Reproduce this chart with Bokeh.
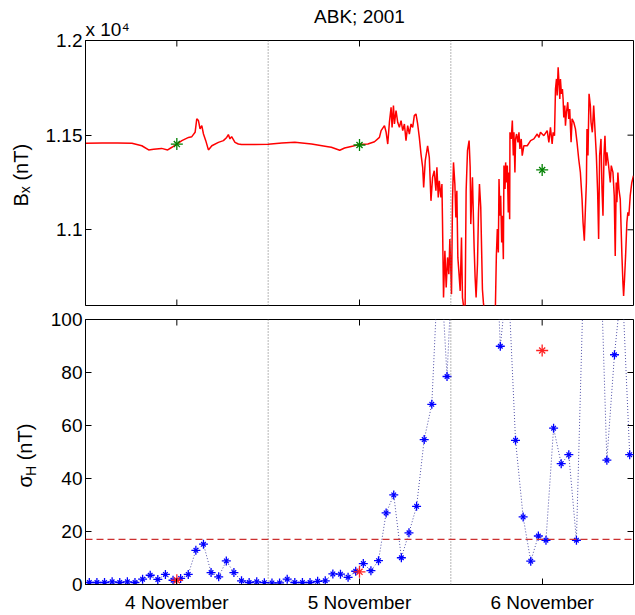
import math
from bokeh.plotting import figure
from bokeh.models import Range1d, FixedTicker, Span, Title
from bokeh.layouts import column, row
from bokeh.core.properties import value
from bokeh.embed import file_html
from bokeh.resources import INLINE

FONT = "Liberation Sans"

# ---------------- data ----------------
title_text = "ABK; 2001"
scale_text = "x 10\u2074"
day_tick_hours = [12, 36, 60]
day_tick_labels = ["4 November", "5 November", "6 November"]
midnight_hours = [24, 48]

bx_tick_values = [11000, 11500, 12000]
bx_tick_labels = ["1.1", "1.15", "1.2"]
sigma_tick_values = [0, 20, 40, 60, 80, 100]

# Bx (nT), hours since 4 Nov 00:00 UT
bx_hours_quiet = [0.0, 2.2, 4.2, 6.1, 7.4, 8.3, 8.95, 10.0, 10.8, 11.35, 12.0, 12.66,
                  13.54, 13.97, 14.4, 14.62, 14.84, 15.05, 15.28, 15.5, 15.8, 16.15,
                  16.6, 17.46, 18.12, 18.55, 18.77, 18.98, 19.2, 19.64, 20.08, 20.5,
                  22.25, 24.0, 25.8, 27.5, 29.7, 31.86, 32.3, 33.4, 34.04, 34.9, 36.0,
                  37.1, 37.97, 38.62]
bx_values_quiet = [11457, 11459, 11458, 11457, 11444, 11422, 11425, 11430, 11422, 11436,
                   11453, 11471, 11488, 11492, 11515, 11586, 11577, 11533, 11550, 11506,
                   11471, 11422, 11444, 11462, 11471, 11488, 11503, 11480, 11492, 11462,
                   11453, 11450, 11450, 11452, 11458, 11462, 11453, 11439, 11436, 11420,
                   11432, 11440, 11450, 11453, 11465, 11488]

bx_hours_nov5 = [38.84, 39.28, 39.5, 39.71, 39.93, 40.15, 40.28, 40.46, 40.59, 40.8,
                 41.02, 41.24, 41.46, 41.68, 41.9, 42.11, 42.33, 42.55, 42.77, 42.99,
                 43.2, 43.42, 43.64, 43.86, 44.08, 44.3, 44.43, 44.64, 44.95, 45.17,
                 45.39, 45.6, 45.82, 46.04, 46.17, 46.35, 46.48, 46.7, 46.83, 46.91,
                 47.04, 47.22, 47.39, 47.57, 47.74, 47.87, 48.0, 48.09, 48.22, 48.35,
                 48.53, 48.66, 48.79, 48.92, 49.05, 49.23, 49.4, 49.53, 49.75, 49.88,
                 50.01, 50.19, 50.4, 50.54, 50.62, 50.84, 51.06, 51.19, 51.32, 51.5,
                 51.63, 51.76]
bx_values_nov5 = [11524, 11550, 11515, 11453, 11568, 11647, 11541, 11656, 11559, 11630,
                  11568, 11541, 11577, 11524, 11559, 11471, 11550, 11506, 11559, 11541,
                  11603, 11612, 11559, 11488, 11400, 11330, 11224, 11365, 11444, 11383,
                  11153, 11277, 11312, 11206, 11330, 11171, 11259, 11171, 11242, 11030,
                  10642, 10889, 10695, 10854, 10765, 10951, 10783, 10660, 11153, 11356,
                  11242, 11065, 11206, 10854, 10783, 10677, 10959, 10642, 10571, 10607,
                  11206, 11418, 11471, 11330, 11030, 11277, 10907, 10748, 10642, 10818,
                  11083, 11242]

bx_hours_nov6 = [51.93, 52.15, 52.28, 52.58, 53.24, 53.85, 53.98, 54.11, 54.24, 54.33,
                 54.46, 54.55, 54.68, 54.77, 54.9, 54.98, 55.12, 55.2, 55.33, 55.42,
                 55.55, 55.64, 55.73, 55.77, 55.94, 56.08, 56.21, 56.29, 56.42, 56.51,
                 56.64, 56.82, 56.95, 57.08, 57.25, 57.38, 57.6, 58.04, 58.48, 58.91,
                 59.35, 59.57, 59.78, 60.22, 60.66, 60.88, 61.09, 61.31, 61.44, 61.62,
                 61.75, 61.88, 61.97, 62.1, 62.23, 62.32, 62.4, 62.53, 62.66, 62.75,
                 62.84, 62.97, 63.06, 63.19, 63.36, 63.49, 63.62, 63.8, 63.93, 64.15,
                 64.37, 64.58, 64.8, 65.02, 65.24, 65.37, 65.54, 65.68, 65.81, 65.89,
                 66.02, 66.16, 66.33, 66.42, 66.59, 66.77, 66.98, 67.12, 67.29, 67.42,
                 67.55, 67.73, 67.86, 67.99, 68.12, 68.25, 68.38, 68.51, 68.73, 68.95,
                 69.08, 69.3, 69.47, 69.6, 69.73, 69.82, 69.95, 70.08, 70.26, 70.48,
                 70.61, 70.7, 70.82, 70.96, 71.13, 71.26, 71.39, 71.57, 71.78, 72.0]
bx_values_nov6 = [11120, 10686, 10615, 10510, 10474, 10580, 10862, 11004, 10880, 11268,
                  11074, 11180, 10933, 11074, 10845, 11339, 11215, 11356, 11250, 11339,
                  11092, 11303, 11056, 11515, 11480, 11577, 11392, 11515, 11303, 11480,
                  11506, 11462, 11515, 11427, 11480, 11392, 11444, 11444, 11471, 11480,
                  11506, 11488, 11515, 11497, 11524, 11462, 11541, 11453, 11515, 11497,
                  11744, 11797, 11709, 11859, 11762, 11691, 11797, 11718, 11744, 11691,
                  11594, 11656, 11550, 11621, 11674, 11586, 11638, 11462, 11586, 11568,
                  11533, 11462, 11374, 11303, 11162, 11039, 10942, 11109, 11250, 11533,
                  11392, 11718, 11656, 11568, 11515, 11656, 11497, 11392, 11197, 10951,
                  11392, 11480, 11215, 11074, 11392, 11497, 11339, 11409, 11339, 11250,
                  11339, 11303, 11180, 10862, 11250, 11145, 11303, 11215, 11162, 10862,
                  10721, 10651, 10739, 10862, 11039, 11092, 11074, 11180, 11250, 11286]

# daily reference values (plotted at the noon marks)
daily_hours = [12, 36, 60]
daily_bx = [11453, 11448, 11316]
daily_sigma = [1.6, 4.8, 88.3]

# hourly sigma_H (nT), centred on half hours
sigma_hours = [h + 0.5 for h in range(72)]
sigma_values = [0.75, 0.75, 0.75, 1.0, 0.75, 1.0, 0.75, 2.0, 3.5, 1.9, 3.8, 1.6,
                2.3, 3.8, 12.9, 15.2, 4.5, 2.9, 8.9, 4.5, 1.4, 0.75, 1.0, 0.7,
                0.6, 0.6, 2.0, 0.75, 0.75, 0.75, 1.2, 1.4, 4.0, 3.9, 2.7, 5.0,
                7.9, 5.2, 9.0, 27.0, 33.8, 10.1, 19.5, 29.5, 54.7, 68.0, 130.0, 78.5,
                140.0, 190.0, 230.0, 175.0, 210.0, 160.0, 89.9, 118.0, 54.4, 25.5, 8.8, 18.3,
                16.7, 59.0, 45.6, 49.0, 16.7, 123.0, 165.0, 140.0, 46.9, 86.7, 115.0, 49.0]
sigma_threshold = 17.0

bx_hours = bx_hours_quiet + bx_hours_nov5 + bx_hours_nov6
bx_values = bx_values_quiet + bx_values_nov5 + bx_values_nov6

X_START, X_END = 0, 72
BX_LO, BX_HI = 10600, 12000
SG_LO, SG_HI = 0, 100

TICK_FS = 19
LABEL_FS = 20
SUB_FS = 14


def bare(width, height, xr, yr):
    f = figure(width=width, height=height, x_range=xr, y_range=yr,
               output_backend="svg", toolbar_location=None,
               x_axis_location=None, y_axis_location=None,
               min_border_left=0, min_border_right=0, min_border_top=0, min_border_bottom=0)
    f.grid.visible = False
    f.outline_line_color = None
    f.background_fill_color = "white"
    f.border_fill_color = "white"
    return f


def box_ticks(p, xticks, yticks, ylo, yhi, xhi, bottom):
    # MATLAB style inward ticks on the box edges: half of a dash marker, rest clipped
    n = len(xticks)
    p.scatter(xticks, [yhi] * n, marker="dash", angle=math.pi / 2, size=12,
              line_color="black", line_width=1)
    if bottom:
        p.scatter(xticks, [ylo] * n, marker="dash", angle=math.pi / 2, size=12,
                  line_color="black", line_width=1)
    p.scatter([xhi] * len(yticks), yticks, marker="dash", size=12,
              line_color="black", line_width=1)


def style_panel(p, yticks, yoverrides):
    p.grid.visible = False
    p.outline_line_color = "black"
    p.outline_line_width = 1
    p.background_fill_color = "white"
    p.border_fill_color = "white"
    for ax in p.yaxis:
        ax.ticker = FixedTicker(ticks=yticks)
        if yoverrides:
            ax.major_label_overrides = yoverrides
        ax.major_tick_in = 6
        ax.major_tick_out = 0
        ax.minor_tick_line_color = None
        ax.axis_line_color = "black"
        ax.major_label_text_font = FONT
        ax.major_label_text_font_size = f"{TICK_FS}px"
        ax.major_label_text_color = "black"
        ax.major_label_standoff = 3
    for h in midnight_hours:
        p.add_layout(Span(location=h, dimension="height", line_color="#6e6e6e",
                          line_dash="1 2", line_width=1))


def asterisk(p, x, y, color, size, width=1.3):
    p.scatter(x, y, marker="cross", size=size, line_color=color, line_width=width)
    p.scatter(x, y, marker="x", size=size * 0.72, line_color=color, line_width=width)


# ---------------- top panel ----------------
p1 = figure(width=593, height=306, x_range=Range1d(X_START, X_END),
            y_range=Range1d(BX_LO, BX_HI), output_backend="svg", toolbar_location=None,
            x_axis_location=None,
            min_border_left=41, min_border_right=2, min_border_top=40, min_border_bottom=1)
style_panel(p1, bx_tick_values, {v: t for v, t in zip(bx_tick_values, bx_tick_labels)})
p1.line(bx_hours, bx_values, line_color="#ff0000", line_width=1.5)
asterisk(p1, daily_hours, daily_bx, "#008000", 12)
box_ticks(p1, day_tick_hours, bx_tick_values, BX_LO, BX_HI, X_END, True)

# scale factor text just above the frame (closest slot), title stacked above it
p1.add_layout(Title(text=scale_text, align="left", vertical_align="bottom", standoff=2,
                    text_font=FONT, text_font_size=f"{TICK_FS}px",
                    text_font_style="normal", text_color="black"), "above")
p1.title.text = title_text
p1.title.align = "center"
p1.title.vertical_align = "bottom"
p1.title.standoff = -23
p1.title.text_font = FONT
p1.title.text_font_size = f"{TICK_FS}px"
p1.title.text_font_style = "normal"
p1.title.text_color = "black"

# ---------------- bottom panel ----------------
p2 = figure(width=593, height=309, x_range=p1.x_range, y_range=Range1d(SG_LO, SG_HI),
            output_backend="svg", toolbar_location=None,
            min_border_left=41, min_border_right=2, min_border_top=13, min_border_bottom=31)
style_panel(p2, sigma_tick_values, None)
for ax in p2.xaxis:
    ax.ticker = FixedTicker(ticks=day_tick_hours)
    ax.major_label_overrides = {h: lab for h, lab in zip(day_tick_hours, day_tick_labels)}
    ax.major_tick_in = 6
    ax.major_tick_out = 0
    ax.minor_tick_line_color = None
    ax.axis_line_color = "black"
    ax.major_label_text_font = FONT
    ax.major_label_text_font_size = f"{TICK_FS}px"
    ax.major_label_text_color = "black"
    ax.major_label_standoff = 7
p2.add_layout(Span(location=sigma_threshold, dimension="width", line_color="#cc3030",
                   line_dash="7 4", line_width=1.2))
p2.line(sigma_hours, sigma_values, line_color="#5050a8", line_dash="1 2", line_width=1)
asterisk(p2, sigma_hours, sigma_values, "#0000ff", 9)
asterisk(p2, daily_hours, daily_sigma, "#ff2020", 12)
box_ticks(p2, day_tick_hours, sigma_tick_values, SG_LO, SG_HI, X_END, False)

# ---------------- y-label strip (page pixel coordinates) ----------------
SHIFT = 0.32  # the svg text sits this many ems below the requested baseline


def vtext(f, baseline_x, start_y, txt, fs):
    f.text(x=[baseline_x - SHIFT * fs], y=[start_y], text=[txt], angle=math.pi / 2,
           text_font=value(FONT), text_font_size=f"{fs}px", text_align="left",
           text_baseline="alphabetic", text_color="black")


side = bare(42, 615, Range1d(0, 42), Range1d(615, 0))
# B_x (nT)
vtext(side, 27, 206, "B", LABEL_FS)
vtext(side, 29, 192.7, "x", SUB_FS)
vtext(side, 27, 180.1, "(nT)", LABEL_FS)
# sigma_H (nT)
vtext(side, 31, 487, "\u03c3", LABEL_FS)
vtext(side, 35, 475.5, "H", SUB_FS)
vtext(side, 31, 459.8, "(nT)", LABEL_FS)

layout = row(side, column(p1, p2))
open("out.html", "w").write(file_html(layout, INLINE))
